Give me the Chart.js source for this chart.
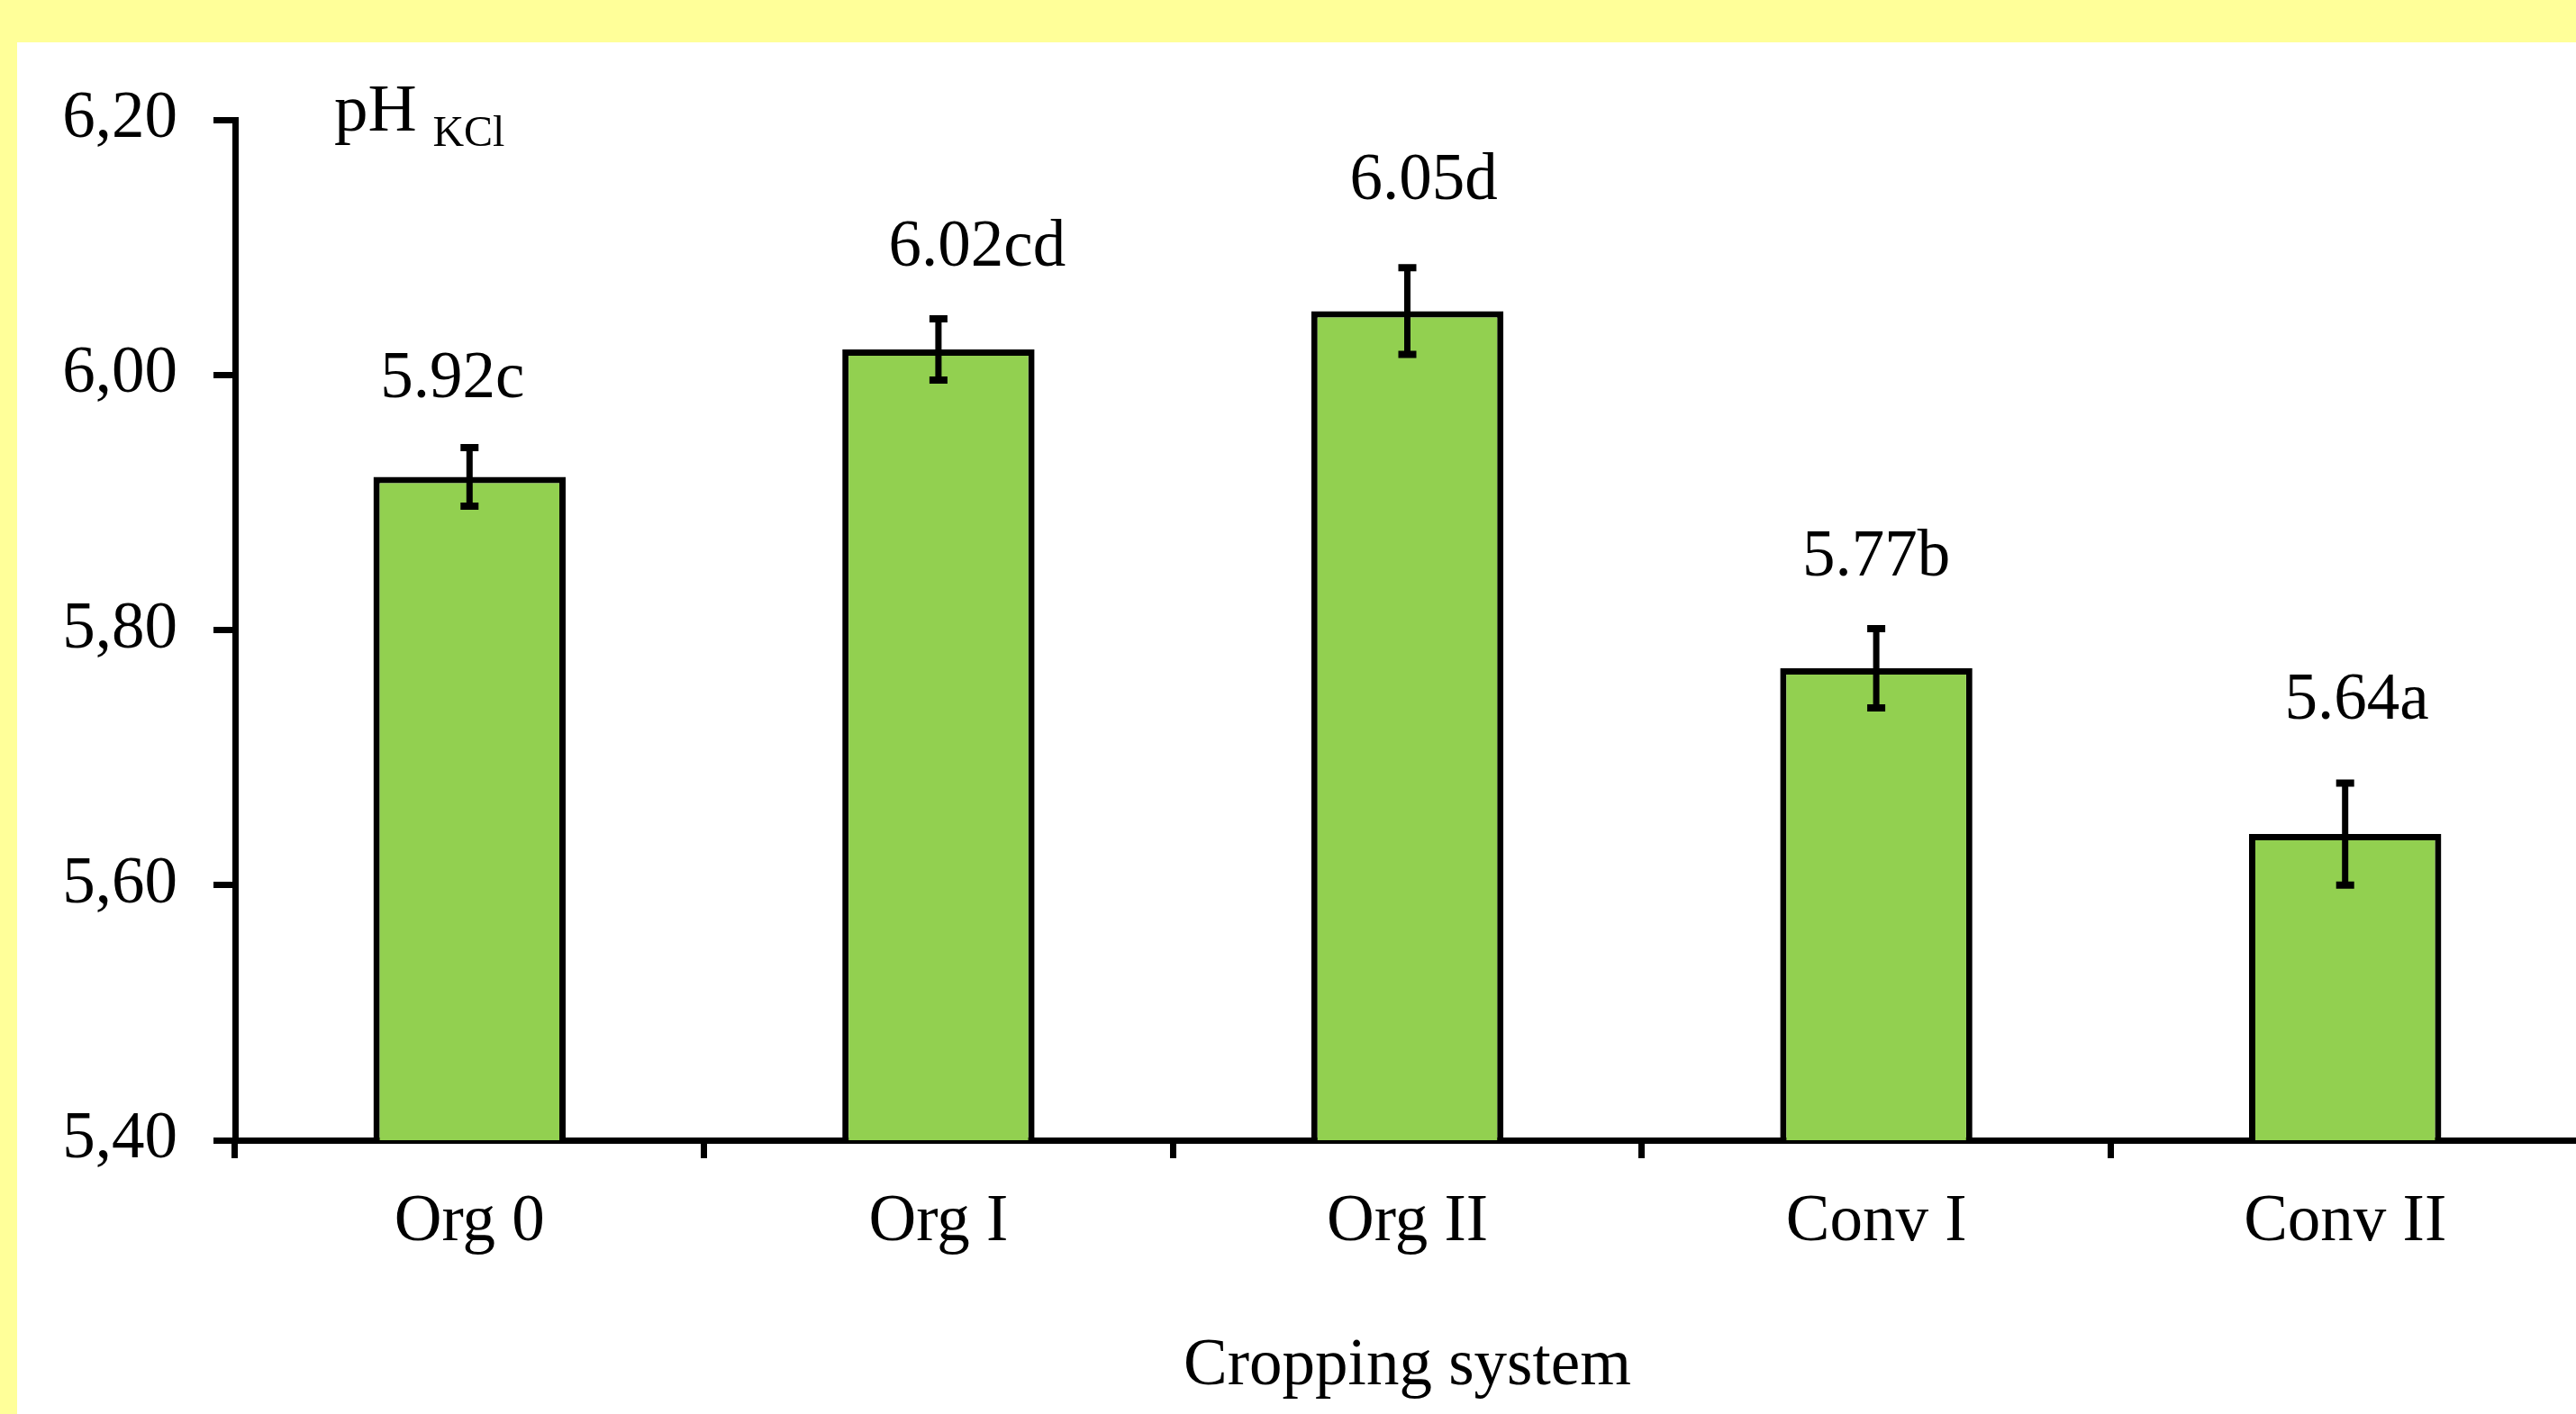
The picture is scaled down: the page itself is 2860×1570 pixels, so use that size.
<!DOCTYPE html>
<html>
<head>
<meta charset="utf-8">
<title>pH KCl by cropping system</title>
<script src="https://cdn.jsdelivr.net/npm/chart.js@4/dist/chart.umd.min.js"></script>
<style>
  html, body { margin: 0; padding: 0; width: 2860px; height: 1570px; overflow: hidden; background: #FFFF99; }
  #panel { position: absolute; left: 19px; top: 47px; width: 2841px; height: 1523px; background: #FFFFFF; }
  #chart { position: absolute; left: 0; top: 0; }
</style>
</head>
<body>
<div id="panel"></div>
<canvas id="chart" width="2880" height="1570"></canvas>
<script>
// Soil pH (KCl) under five cropping systems, mean ± error, with significance letters
const categories = ['Org 0', 'Org I', 'Org II', 'Conv I', 'Conv II'];
const phMeans = [5.92, 6.02, 6.05, 5.77, 5.64];
const phErrors = [0.023, 0.024, 0.034, 0.031, 0.040];
const significance = ['c', 'cd', 'd', 'b', 'a'];
const yTickValues = [5.40, 5.60, 5.80, 6.00, 6.20];
const yTickLabels = ['5,40', '5,60', '5,80', '6,00', '6,20'];

const SERIF = '"Liberation Serif", "Times New Roman", Times, serif';
Chart.defaults.font.family = SERIF;
Chart.defaults.color = '#000000';

const BLACK = '#000000';
const AXIS_W = 7;

// Placement of each value label relative to its error bar (px)
const labelPlacement = [
  { dx: -19, gap: 52 },
  { dx: 43, gap: 55 },
  { dx: 18, gap: 72 },
  { dx: 0, gap: 55 },
  { dx: 13, gap: 67 }
];

// Error bars and value/letter labels above each bar
const errorBarsAndLabels = {
  id: 'errorBarsAndLabels',
  afterDatasetsDraw(chart) {
    const { ctx, scales: { y } } = chart;
    const meta = chart.getDatasetMeta(0);
    ctx.save();
    meta.data.forEach((bar, i) => {
      const x = bar.x;
      const yHi = y.getPixelForValue(phMeans[i] + phErrors[i]);
      const yLo = y.getPixelForValue(phMeans[i] - phErrors[i]);
      ctx.strokeStyle = BLACK;
      ctx.lineCap = 'butt';
      ctx.lineWidth = 7;
      ctx.beginPath();
      ctx.moveTo(x, yHi);
      ctx.lineTo(x, yLo);
      ctx.stroke();
      ctx.lineWidth = 8;
      ctx.beginPath();
      ctx.moveTo(x - 10, yHi);
      ctx.lineTo(x + 10, yHi);
      ctx.moveTo(x - 10, yLo);
      ctx.lineTo(x + 10, yLo);
      ctx.stroke();

      const p = labelPlacement[i];
      ctx.fillStyle = BLACK;
      ctx.font = '73px ' + SERIF;
      ctx.textAlign = 'center';
      ctx.textBaseline = 'alphabetic';
      ctx.fillText(phMeans[i].toFixed(2) + significance[i], x + p.dx, yHi - 4 - p.gap);
    });
    ctx.restore();
  }
};

// Axis unit label "pH" with subscript "KCl"
const unitLabel = {
  id: 'unitLabel',
  afterDraw(chart) {
    const { ctx, chartArea } = chart;
    ctx.save();
    ctx.fillStyle = BLACK;
    ctx.textAlign = 'left';
    ctx.textBaseline = 'alphabetic';
    const x = chartArea.left + 110;
    const base = chartArea.top + 12;
    ctx.font = '75px ' + SERIF;
    ctx.fillText('pH', x, base);
    const w = ctx.measureText('pH ').width;
    ctx.font = '48px ' + SERIF;
    ctx.fillText('KCl', x + w - 1, base + 17);
    ctx.restore();
  }
};

new Chart(document.getElementById('chart'), {
  type: 'bar',
  data: {
    labels: categories,
    datasets: [{
      data: phMeans,
      backgroundColor: '#92D050',
      borderColor: BLACK,
      borderWidth: 7,
      categoryPercentage: 1.0,
      barPercentage: 0.41
    }]
  },
  options: {
    responsive: false,
    devicePixelRatio: 1,
    animation: false,
    events: [],
    layout: { padding: { left: 0, top: 133, right: 16, bottom: 0 } },
    plugins: {
      legend: { display: false },
      tooltip: { enabled: false },
      title: { display: false }
    },
    scales: {
      x: {
        type: 'category',
        grid: {
          offset: true,
          drawOnChartArea: false,
          drawTicks: true,
          tickLength: 20,
          lineWidth: AXIS_W,
          color: BLACK
        },
        border: { display: true, color: BLACK, width: AXIS_W },
        ticks: { font: { size: 73 }, color: BLACK, padding: 28, maxRotation: 0 },
        title: {
          display: true,
          text: 'Cropping system',
          font: { size: 73 },
          color: BLACK,
          padding: { top: 0, bottom: 8 }
        },
        afterFit(scale) { scale.height = 304; }
      },
      y: {
        min: 5.4,
        max: 6.2,
        grid: {
          drawOnChartArea: false,
          drawTicks: true,
          tickLength: 24,
          lineWidth: AXIS_W,
          color: BLACK
        },
        border: { display: true, color: BLACK, width: AXIS_W },
        ticks: {
          font: { size: 73 },
          color: BLACK,
          padding: 40,
          callback(value) {
            const k = yTickValues.findIndex(v => Math.abs(v - value) < 1e-6);
            return k >= 0 ? yTickLabels[k] : '';
          }
        },
        afterBuildTicks(scale) { scale.ticks = yTickValues.map(v => ({ value: v })); },
        afterFit(scale) { scale.width = 261; }
      }
    }
  },
  plugins: [errorBarsAndLabels, unitLabel]
});
</script>
</body>
</html>
